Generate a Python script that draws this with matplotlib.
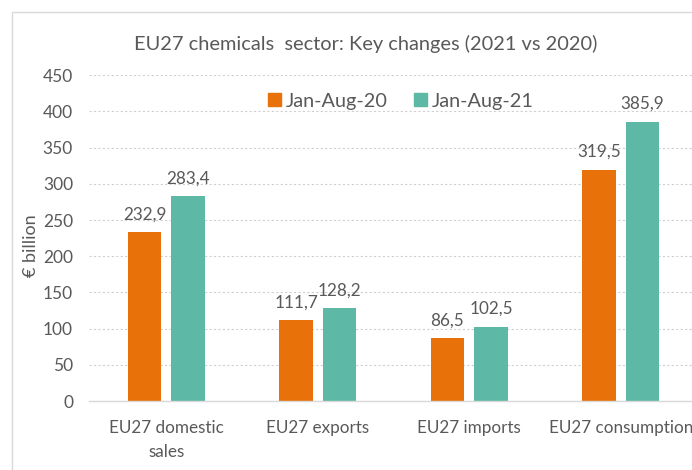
import matplotlib
matplotlib.use("Agg")
import matplotlib.pyplot as plt
from matplotlib.patches import Rectangle, Patch
import numpy as np

categories = ["EU27 domestic\nsales", "EU27 exports", "EU27 imports", "EU27 consumption"]
series_names = ["Jan-Aug-20", "Jan-Aug-21"]
values_2020 = [232.9, 111.7, 86.5, 319.5]
values_2021 = [283.4, 128.2, 102.5, 385.9]
yticks = [0, 50, 100, 150, 200, 250, 300, 350, 400, 450]

ORANGE = "#E8710A"
TEAL = "#5DB9A5"
GREY = "#595959"

plt.rcParams['font.family'] = ['Lato', 'DejaVu Sans']

W, H = 692, 470
fig = plt.figure(figsize=(W / 100, H / 100), dpi=100)

# chart border
fig.add_artist(Rectangle((12 / W, -0.1), 1.2, 1 - 12 / H + 0.1, transform=fig.transFigure,
                         fill=False, edgecolor="#d9d9d9", lw=1.0))

left_px, right_px = 89, 698
bottom_px, top_px = 401, 75.3
ax = fig.add_axes([left_px / W, 1 - bottom_px / H, (right_px - left_px) / W,
                   (bottom_px - top_px) / H])

x = np.arange(len(categories))
bw = 0.224
off = 0.1436
b1 = ax.bar(x - off, values_2020, bw, color=ORANGE, label=series_names[0], zorder=3)
b2 = ax.bar(x + off, values_2021, bw, color=TEAL, label=series_names[1], zorder=3)

def fmt(v):
    return f"{v:.1f}".replace(".", ",")

for bars in (b1, b2):
    ax.bar_label(bars, labels=[fmt(v) for v in bars.datavalues], padding=7,
                 color=GREY, fontsize=12.3)

ax.set_xlim(-0.51, 3.51)
ax.set_ylim(0, 450)
ax.set_yticks(yticks)
ax.set_xticks(x)
ax.set_xticklabels(categories, fontsize=12.3, color=GREY, linespacing=1.65)
ax.tick_params(axis='y', labelsize=12.5, labelcolor=GREY, length=0, pad=11.5)
ax.tick_params(axis='x', length=0, pad=13.5)
ax.yaxis.grid(True, color="#d0d0d0", linestyle=(0, (2, 2)), lw=0.8, zorder=0)
ax.set_axisbelow(True)
for s in ["top", "right", "left"]:
    ax.spines[s].set_visible(False)
ax.spines["bottom"].set_color("#d9d9d9")
ax.spines["bottom"].set_linewidth(1.0)
ax.spines["bottom"].set_zorder(4)

fig.text(31 / W, 1 - 246 / H, "€ billion", rotation=90, ha="center", va="center",
         fontsize=13, color=GREY)

fig.text(366 / W, 1 - 44 / H, "EU27 chemicals  sector: Key changes (2021 vs 2020)",
         ha="center", va="center", fontsize=14.4, color=GREY)

handles = [Patch(color=ORANGE), Patch(color=TEAL)]
fig.legend(handles, series_names, loc="center", bbox_to_anchor=(401 / W, 1 - 101 / H),
           ncol=2, frameon=False, fontsize=14.3, labelcolor=GREY,
           handlelength=0.65, handleheight=0.65, handletextpad=0.25, columnspacing=1.3)

fig.savefig("out.png", dpi=100)
